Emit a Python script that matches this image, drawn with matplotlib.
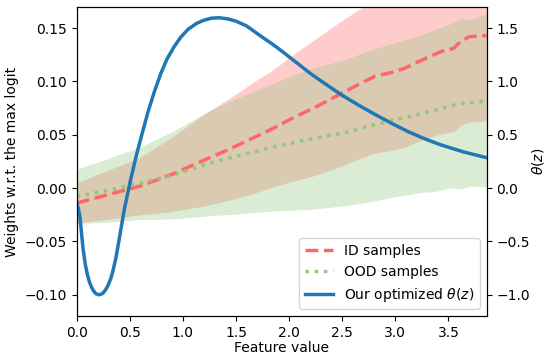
import numpy as np
import matplotlib
matplotlib.use('Agg')
import matplotlib.pyplot as plt


# ---- data ----
# ID samples: mean / std of the weight vs. feature value
id_z = [0.0, 0.3, 0.6, 0.9, 1.24, 1.45, 1.65, 1.85, 2.02, 2.25, 2.48, 2.65,
        2.81, 2.95, 3.08, 3.25, 3.43, 3.55, 3.62, 3.70, 3.86]
id_mean = [-0.014, -0.006, 0.002, 0.013, 0.028, 0.037, 0.0465, 0.056, 0.065,
           0.076, 0.088, 0.097, 0.105, 0.108, 0.112, 0.120, 0.128, 0.131,
           0.138, 0.142, 0.143]
id_std = [0.019, 0.023, 0.027, 0.035, 0.044, 0.048, 0.052, 0.055, 0.059,
          0.064, 0.068, 0.070, 0.072, 0.073, 0.074, 0.075, 0.077, 0.078,
          0.079, 0.080, 0.080]

# OOD samples
ood_z = [0.0, 0.3, 0.6, 0.9, 1.24, 1.55, 1.86, 2.2, 2.53, 2.75, 2.97, 3.25,
         3.38, 3.53, 3.62, 3.70, 3.86]
ood_mean = [-0.0077, -0.002, 0.0046, 0.012, 0.023, 0.031, 0.0387, 0.046,
            0.052, 0.058, 0.0635, 0.070, 0.073, 0.0774, 0.079, 0.080, 0.082]
ood_std = [0.0255, 0.030, 0.034, 0.041, 0.049, 0.055, 0.060, 0.066, 0.0685,
           0.071, 0.072, 0.074, 0.076, 0.077, 0.080, 0.078, 0.081]

# optimized theta(z) (right axis)
theta_z = [0.0, 0.015, 0.03, 0.045, 0.06, 0.08, 0.10, 0.12, 0.14, 0.16, 0.18,
           0.21, 0.24, 0.26, 0.28, 0.30, 0.32, 0.34, 0.37, 0.41, 0.45, 0.51,
           0.56, 0.61, 0.67, 0.73, 0.79, 0.85, 0.92, 0.98, 1.05, 1.13, 1.20,
           1.27, 1.34, 1.42, 1.50, 1.60, 1.74, 1.85, 1.93, 2.02, 2.11, 2.20,
           2.30, 2.40, 2.50, 2.65, 2.81, 2.97, 3.12, 3.27, 3.43, 3.64, 3.86]
theta = [-0.14, -0.19, -0.27, -0.42, -0.57, -0.71, -0.81, -0.88, -0.93,
         -0.965, -0.99, -1.0, -0.99, -0.97, -0.94, -0.90, -0.85, -0.78,
         -0.65, -0.42, -0.19, 0.09, 0.30, 0.49, 0.71, 0.90, 1.07, 1.21, 1.33,
         1.415, 1.49, 1.545, 1.575, 1.593, 1.597, 1.587, 1.565, 1.52, 1.42,
         1.345, 1.285, 1.215, 1.145, 1.075, 1.005, 0.937, 0.87, 0.78, 0.69,
         0.605, 0.53, 0.465, 0.405, 0.34, 0.285]

ID_COLOR = '#ff6666'
OOD_COLOR = '#8fc87d'

id_mean_a, id_std_a = np.array(id_mean), np.array(id_std)
ood_mean_a, ood_std_a = np.array(ood_mean), np.array(ood_std)

fig, ax = plt.subplots(figsize=(5.48, 3.56), dpi=100)
fig.subplots_adjust(left=0.140, right=0.888, bottom=0.112, top=0.981)

ax.fill_between(id_z, id_mean_a - id_std_a, id_mean_a + id_std_a,
                color=ID_COLOR, alpha=0.33, linewidth=0)
ax.fill_between(ood_z, ood_mean_a - ood_std_a, ood_mean_a + ood_std_a,
                color=OOD_COLOR, alpha=0.33, linewidth=0)
l_id, = ax.plot(id_z, id_mean, '--', color=ID_COLOR, lw=2.5, label='ID samples')
l_ood, = ax.plot(ood_z, ood_mean, ':', color=OOD_COLOR, lw=2.5, label='OOD samples')
ax.set_xlim(0, 3.86)
ax.set_ylim(-0.12, 0.17)
ax.set_xlabel('Feature value', labelpad=1)
ax.set_ylabel('Weights w.r.t. the max logit')

ax2 = ax.twinx()
l_th, = ax2.plot(theta_z, theta, '-', color='#1f77b4', lw=2.5,
                 label=r'Our optimized $\theta(z)$')
ax2.set_ylim(-1.2, 1.7)
ax2.set_ylabel(r'$\theta(z)$', labelpad=0)

ax2.legend(handles=[l_id, l_ood, l_th], loc='lower right')

fig.savefig('out.png', dpi=100)
